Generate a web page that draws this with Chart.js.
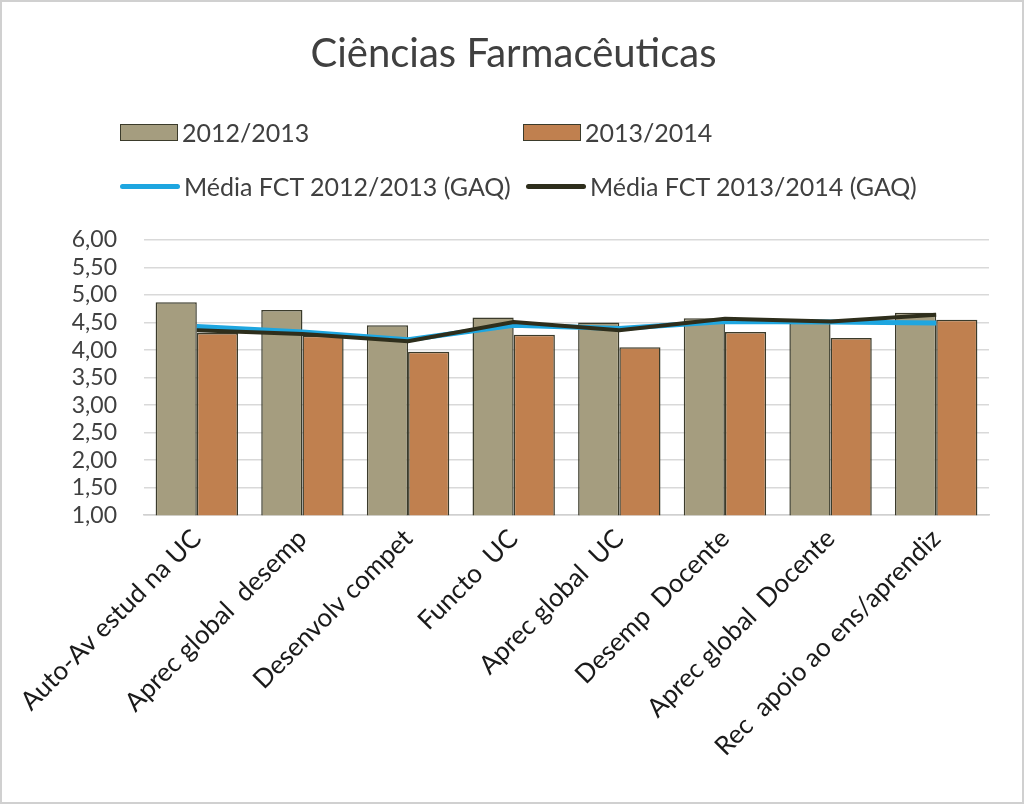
<!DOCTYPE html>
<html>
<head>
<meta charset="utf-8">
<script src="https://cdn.jsdelivr.net/npm/chart.js@4"></script>
<style>
  body { margin: 0; background: #fff; }
  .frame {
    position: relative;
    width: 1020px; height: 800px;
    border: 2px solid #d0d0d0;
    background: #fff;
  }
  .legend {
    position: absolute; left: 0; top: 0;
    font-family: Lato, "Open Sans", sans-serif;
    font-size: 25px; color: #404040;
  }
  .legend .item { position: absolute; display: flex; align-items: center; white-space: nowrap; }
  .legend .box { width: 58px; height: 17px; border: 1.5px solid #3b3b2b; margin-right: 4px; box-sizing: border-box; }
  .legend .line { width: 60px; height: 5px; border-radius: 3px; margin-right: 4px; }
</style>
</head>
<body>
<div class="frame">
  <canvas id="myChart" width="1020" height="800"></canvas>
  <div class="legend" id="legend"></div>
</div>
<script>
const categories = ['Auto-Av estud na UC', 'Aprec global  desemp', 'Desenvolv compet', 'Functo  UC',
    'Aprec global  UC', 'Desemp  Docente', 'Aprec global  Docente', 'Rec  apoio ao ens/aprendiz'];
const values2012 = [4.87, 4.73, 4.45, 4.59, 4.50, 4.58, 4.49, 4.68];
const values2013 = [4.31, 4.26, 3.97, 4.28, 4.05, 4.33, 4.22, 4.55];
const mediaFct2012 = [4.43, 4.33, 4.19, 4.45, 4.39, 4.52, 4.51, 4.49];
const mediaFct2013 = [4.36, 4.29, 4.16, 4.51, 4.36, 4.57, 4.52, 4.64];

// colours per series
const colors = {
    'y2012': '#a59d7f',
    'y2013': '#c0804f',
    'fct2012': '#1ea6e0',
    'fct2013': '#2e2e1c'
};

const ctx = document.getElementById('myChart');

const myChart = new Chart(ctx, {
    data: {
        labels: categories,
        datasets: [
            {
                type: 'line', label: 'Média FCT 2013/2014 (GAQ)', data: mediaFct2013,
                borderColor: colors.fct2013, borderWidth: 4, pointRadius: 0, order: 0
            },
            {
                type: 'line', label: 'Média FCT 2012/2013 (GAQ)', data: mediaFct2012,
                borderColor: colors.fct2012, borderWidth: 5, pointRadius: 0, order: 1
            },
            {
                type: 'bar', label: '2012/2013', data: values2012,
                backgroundColor: colors.y2012, borderColor: '#3b3b2b', borderWidth: 1.5,
                categoryPercentage: 0.78, barPercentage: 1.0, order: 2
            },
            {
                type: 'bar', label: '2013/2014', data: values2013,
                backgroundColor: colors.y2013, borderColor: '#3b3b2b', borderWidth: 1.5,
                categoryPercentage: 0.78, barPercentage: 1.0, order: 2
            }
        ]
    },
    options: {
        responsive: false,
        animation: false,
        layout: { padding: { left: 36, right: 33, top: 0, bottom: 32 } },
        plugins: {
            legend: { display: false },
            tooltip: { enabled: false },
            title: {
                display: true,
                text: 'Ciências Farmacêuticas',
                color: '#404040',
                font: { family: 'Lato, "Open Sans", sans-serif', size: 40, weight: 'normal' },
                padding: { top: 28, bottom: 162 }
            }
        },
        scales: {
            x: {
                grid: { display: false, drawTicks: false },
                border: { color: '#d0d0d0', width: 1.5 },
                ticks: {
                    color: '#1a1a1a',
                    font: { family: 'Lato, "Open Sans", sans-serif', size: 26 },
                    minRotation: 45, maxRotation: 45,
                    autoSkip: false,
                    padding: 8
                }
            },
            y: {
                min: 1, max: 6,
                afterFit: (scale) => { scale.width = 106; },
                grid: { color: '#d9d9d9', lineWidth: 1.5, drawTicks: false },
                border: { display: false },
                ticks: {
                    stepSize: 0.5,
                    autoSkip: false,
                    color: '#404040',
                    font: { family: 'Lato, "Open Sans", sans-serif', size: 23 },
                    padding: 27,
                    callback: (v) => v.toFixed(2).replace('.', ',')
                }
            }
        }
    }
});

// legend in the same two-row layout as the original
const legendItems = [
    { label: '2012/2013', kind: 'box', color: colors.y2012, x: 118, y: 115 },
    { label: '2013/2014', kind: 'box', color: colors.y2013, x: 521, y: 115 },
    { label: 'Média FCT 2012/2013 (GAQ)', kind: 'line', color: colors.fct2012, x: 118, y: 169 },
    { label: 'Média FCT 2013/2014 (GAQ)', kind: 'line', color: colors.fct2013, x: 524, y: 169 }
];
const legend = document.getElementById('legend');
legendItems.forEach((item) => {
    const el = document.createElement('div');
    el.className = 'item';
    el.style.left = item.x + 'px';
    el.style.top = item.y + 'px';
    const swatch = document.createElement('span');
    swatch.className = item.kind;
    swatch.style.background = item.color;
    el.appendChild(swatch);
    el.appendChild(document.createTextNode(item.label));
    legend.appendChild(el);
});
</script>
</body>
</html>
